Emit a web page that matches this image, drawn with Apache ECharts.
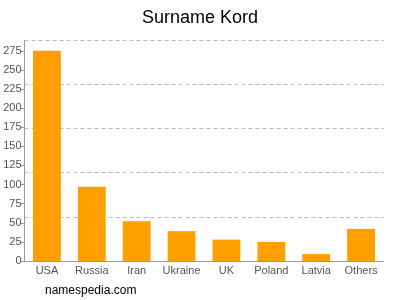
<!DOCTYPE html>
<html><head><meta charset="utf-8">
<script src="https://cdn.jsdelivr.net/npm/echarts@6/dist/echarts.min.js"></script>
<style>html,body{margin:0;padding:0;background:#fff}#c{width:400px;height:300px}</style>
</head><body><div id="c"></div>
<script>
const categories = ["USA","Russia","Iran","Ukraine","UK","Poland","Latvia","Others"];
const counts = [275, 97, 52, 39, 28, 25, 9, 42];
const yTicks = [0,25,50,75,100,125,150,175,200,225,250,275];
const yMax = 288.75;
const chart = echarts.init(document.getElementById('c'), null, {renderer:'canvas'});
chart.setOption({
  animation:false,
  title:{text:'Surname Kord', left:'center', top:4, textStyle:{fontFamily:'Liberation Sans, Arial', fontSize:18, fontWeight:'normal', color:'#000'}},
  graphic:[{type:'text', left:45, top:285, style:{text:'namespedia.com', font:'12px Liberation Sans, Arial', fill:'#000'}}],
  grid:{left:24.5, right:16.5, top:40.3, bottom:39},
  xAxis:{type:'category', data:categories,
    axisLine:{lineStyle:{color:'#999'}}, axisTick:{show:false},
    axisLabel:{color:'#555', fontSize:11, fontFamily:'Liberation Sans, Arial', margin:4, interval:0, hideOverlap:false}},
  yAxis:[{type:'value', min:0, max:yMax, interval:25,
    axisLine:{show:true, lineStyle:{color:'#999'}},
    axisTick:{show:true, length:4, lineStyle:{color:'#999'}, customValues:yTicks},
    axisLabel:{color:'#555', fontSize:11, fontFamily:'Liberation Sans, Arial', margin:3, customValues:yTicks},
    splitLine:{show:false}},
   {type:'value', min:0, max:yMax, interval:yMax/5, position:'left',
    axisLine:{show:false}, axisTick:{show:false}, axisLabel:{show:false},
    splitLine:{show:true, lineStyle:{color:'#bbb', type:[4,3], width:1}}}],
  series:[{type:'bar', data:counts, yAxisIndex:0, barWidth:'62%', itemStyle:{color:'#FFA000'}}]
});
</script></body></html>
